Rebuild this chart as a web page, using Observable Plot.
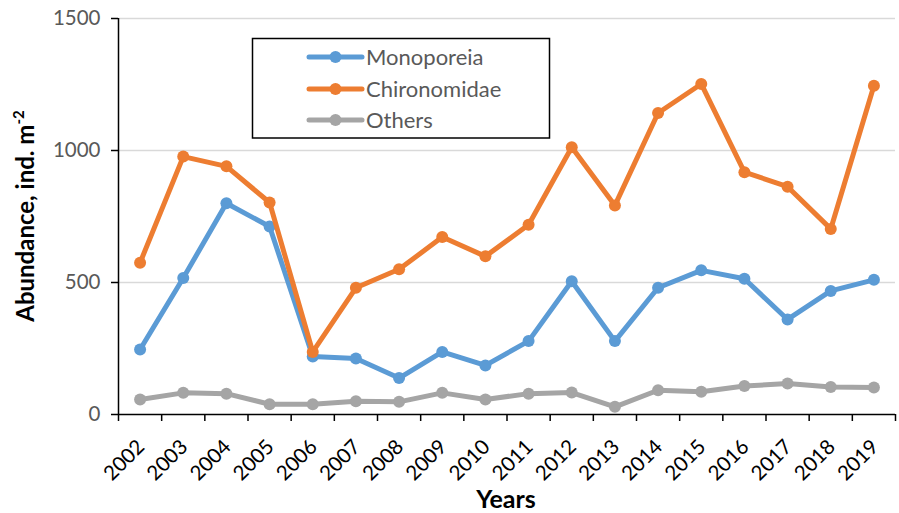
<!DOCTYPE html>
<html><head><meta charset="utf-8">
<script src="https://cdn.jsdelivr.net/npm/d3@7"></script>
<script src="https://cdn.jsdelivr.net/npm/@observablehq/plot@0.6"></script>
<style>body{margin:0;background:#fff}</style>
</head><body><div id="chart"></div>
<script>
const years = [2002,2003,2004,2005,2006,2007,2008,2009,2010,2011,2012,2013,2014,2015,2016,2017,2018,2019];
const monoporeia = [246,517,800,712,220,212,138,237,186,278,505,278,480,546,514,360,468,510];
const chironomidae = [575,977,940,803,237,480,550,672,599,719,1012,792,1142,1252,918,863,703,1245];
const others = [57,82,79,39,39,50,48,82,57,79,83,29,92,86,108,117,104,102];
const seriesNames = ["Monoporeia","Chironomidae","Others"];
const seriesColors = ["#5B9BD5","#ED7D31","#A5A5A5"];
const yTicks = [0,500,1000,1500];
const xTitle = "Years";
const yTitle = "Abundance, ind. m";
const yTitleSup = "-2";

const seriesValues = [monoporeia, chironomidae, others];
const rows = [];
seriesValues.forEach((vals, i) => vals.forEach((v, j) => rows.push({series: seriesNames[i], year: years[j], value: v})));
const boundaries = [...years.map(y => y - 0.5), years[years.length - 1] + 0.5];

const seriesMarks = seriesNames.flatMap(name => {
  const data = rows.filter(r => r.series === name);
  return [
    Plot.line(data, {x: "year", y: "value", stroke: "series", strokeWidth: 5, strokeLinejoin: "round", strokeLinecap: "round"}),
    Plot.dot(data, {x: "year", y: "value", fill: "series", r: 6})
  ];
});

const plot = Plot.plot({
  width: 899, height: 513,
  marginLeft: 118, marginRight: 4, marginTop: 18, marginBottom: 99,
  style: {fontFamily: "Lato, sans-serif", background: "#fff", overflow: "visible"},
  x: {domain: [years[0] - 0.5, years[years.length - 1] + 0.5], axis: null},
  y: {domain: [0, 1500], axis: null},
  color: {domain: seriesNames, range: seriesColors},
  marks: [
    Plot.gridY(yTicks.slice(1), {stroke: "#d9d9d9", strokeOpacity: 1, strokeWidth: 1.5}),
    Plot.ruleX([years[0] - 0.5], {stroke: "#000", strokeWidth: 1.5}),
    Plot.ruleY([0], {stroke: "#000", strokeWidth: 1.5}),
    Plot.axisY(yTicks, {tickSize: 7, tickPadding: 11, fontSize: 20.5, fill: "#595959", stroke: "#000", strokeWidth: 1.5, label: null, tickFormat: d => String(d)}),
    Plot.axisX(boundaries, {tickSize: 7, tickFormat: () => "", stroke: "#000", strokeWidth: 1.5, label: null}),
    Plot.text(years, {x: d => d, frameAnchor: "bottom", dx: 1, dy: 29, rotate: -45, textAnchor: "end", lineAnchor: "middle", fontSize: 20.5, fill: "#000", text: d => String(d)}),
    ...seriesMarks
  ]
});
document.getElementById("chart").appendChild(plot);

const svg = d3.select(plot);
// axis titles
svg.append("text").attr("x", 506).attr("y", 508).attr("text-anchor", "middle")
  .attr("font-size", 25).attr("font-weight", "bold").attr("fill", "#000").attr("font-family", "Lato, sans-serif").text(xTitle);
const yt = svg.append("text").attr("transform", "translate(34,216) rotate(-90)").attr("text-anchor", "middle")
  .attr("font-size", 24).attr("font-weight", "bold").attr("fill", "#000").attr("font-family", "Lato, sans-serif");
yt.append("tspan").text(yTitle);
yt.append("tspan").attr("font-size", 15).attr("dy", -10).text(yTitleSup);

// legend
const lg = svg.append("g").attr("font-family", "Lato, sans-serif");
lg.append("rect").attr("x", 252.5).attr("y", 38.5).attr("width", 297).attr("height", 99.5)
  .attr("fill", "#fff").attr("stroke", "#000").attr("stroke-width", 1.5);
const rowY = [57, 89, 120];
seriesNames.forEach((name, i) => {
  const g = lg.append("g").attr("transform", `translate(0,${rowY[i]})`);
  g.append("line").attr("x1", 309).attr("x2", 362).attr("stroke", seriesColors[i]).attr("stroke-width", 5).attr("stroke-linecap", "round");
  g.append("circle").attr("cx", 335.5).attr("r", 6).attr("fill", seriesColors[i]);
  g.append("text").attr("x", 366).attr("dy", "0.35em").attr("text-anchor", "start").attr("font-size", 22).attr("fill", "#595959").text(name);
});
</script>
</body></html>
